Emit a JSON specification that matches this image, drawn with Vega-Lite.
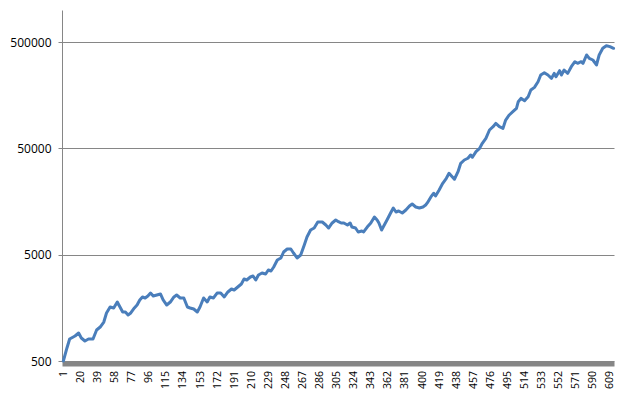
{
  "$schema": "https://vega.github.io/schema/vega-lite/v6.json",
  "autosize": "none",
  "width": 552,
  "height": 351,
  "padding": {"left": 62, "top": 10, "right": 8, "bottom": 37},
  "background": "white",
  "config": {"view": {"stroke": null}},
  "data": {"values": [
    {"i":1,"v":500},{"i":5,"v":663},{"i":8,"v":805},{"i":14,"v":859},{"i":18,"v":917},{"i":21,"v":823},{"i":25,"v":771},{"i":29,"v":805},{"i":34,"v":805},{"i":38,"v":978},
    {"i":42,"v":1044},{"i":46,"v":1163},{"i":49,"v":1414},{"i":53,"v":1610},{"i":57,"v":1576},{"i":61,"v":1794},{"i":64,"v":1610},{"i":67,"v":1445},{"i":70,"v":1445},{"i":73,"v":1354},
    {"i":76,"v":1414},{"i":80,"v":1576},{"i":83,"v":1681},{"i":86,"v":1874},{"i":89,"v":2000},{"i":92,"v":1957},{"i":95,"v":2043},{"i":98,"v":2180},{"i":101,"v":2043},{"i":105,"v":2088},
    {"i":109,"v":2134},{"i":112,"v":1874},{"i":116,"v":1681},{"i":120,"v":1794},{"i":124,"v":2000},{"i":127,"v":2088},{"i":131,"v":1957},{"i":135,"v":1957},{"i":139,"v":1610},{"i":142,"v":1576},
    {"i":146,"v":1542},{"i":150,"v":1445},{"i":153,"v":1610},{"i":157,"v":1957},{"i":161,"v":1794},{"i":164,"v":2000},{"i":168,"v":1957},{"i":172,"v":2180},{"i":176,"v":2180},{"i":180,"v":2000},
    {"i":184,"v":2228},{"i":188,"v":2378},{"i":191,"v":2327},{"i":195,"v":2483},{"i":199,"v":2650},{"i":202,"v":2953},{"i":205,"v":2889},{"i":209,"v":3083},{"i":212,"v":3151},{"i":215,"v":2889},
    {"i":218,"v":3220},{"i":222,"v":3362},{"i":226,"v":3290},{"i":229,"v":3588},{"i":232,"v":3511},{"i":235,"v":3829},{"i":239,"v":4455},{"i":243,"v":4653},{"i":246,"v":5297},{"i":250,"v":5653},
    {"i":254,"v":5653},{"i":257,"v":5184},{"i":261,"v":4653},{"i":265,"v":4965},{"i":269,"v":6164},{"i":272,"v":7330},{"i":276,"v":8530},{"i":280,"v":8905},{"i":284,"v":10145},{"i":289,"v":10145},
    {"i":293,"v":9506},{"i":296,"v":8905},{"i":300,"v":9930},{"i":304,"v":10595},{"i":307,"v":10220},{"i":310,"v":9930},{"i":313,"v":9930},{"i":317,"v":9506},{"i":320,"v":9930},{"i":322,"v":9100},
    {"i":326,"v":8905},{"i":329,"v":8170},{"i":333,"v":8350},{"i":335,"v":8170},{"i":339,"v":9100},{"i":343,"v":9930},{"i":347,"v":11310},{"i":350,"v":10595},{"i":352,"v":9930},{"i":355,"v":8530},
    {"i":358,"v":9506},{"i":361,"v":10595},{"i":365,"v":12325},{"i":368,"v":13740},{"i":371,"v":12595},{"i":374,"v":12870},{"i":378,"v":12325},{"i":382,"v":13155},{"i":386,"v":14345},{"i":389,"v":14975},
    {"i":393,"v":14040},{"i":397,"v":13740},{"i":401,"v":14040},{"i":404,"v":14660},{"i":406,"v":15415},{"i":410,"v":17560},{"i":413,"v":18900},{"i":415,"v":17815},{"i":419,"v":20285},{"i":423,"v":23465},
    {"i":427,"v":26155},{"i":430,"v":29145},{"i":434,"v":26730},{"i":436,"v":25595},{"i":440,"v":30170},{"i":443,"v":36190},{"i":447,"v":38845},{"i":451,"v":40330},{"i":454,"v":43290},{"i":456,"v":41205},
    {"i":460,"v":46525},{"i":464,"v":50000},{"i":467,"v":55750},{"i":471,"v":62150},{"i":475,"v":74400},{"i":479,"v":79900},{"i":482,"v":85900},{"i":486,"v":79900},{"i":490,"v":77100},{"i":493,"v":92350},
    {"i":497,"v":102950},{"i":501,"v":110550},{"i":505,"v":118900},{"i":507,"v":137250},{"i":510,"v":147650},{"i":514,"v":140250},{"i":518,"v":153000},{"i":521,"v":176850},{"i":525,"v":187350},{"i":529,"v":211650},
    {"i":532,"v":244700},{"i":536,"v":257250},{"i":540,"v":244700},{"i":544,"v":227700},{"i":547,"v":253700},{"i":549,"v":235900},{"i":553,"v":268700},{"i":555,"v":244700},{"i":558,"v":272800},{"i":562,"v":253700},
    {"i":566,"v":293000},{"i":570,"v":326450},{"i":573,"v":315100},{"i":577,"v":326450},{"i":579,"v":315100},{"i":583,"v":377400},{"i":586,"v":351100},{"i":590,"v":338650},{"i":594,"v":304000},{"i":597,"v":377400},
    {"i":601,"v":436300},{"i":605,"v":461650},{"i":609,"v":452000},{"i":613,"v":436300}
  ]},
  "mark": {"type": "line", "color": "#4a7ebb", "strokeWidth": 3, "strokeJoin": "round", "strokeCap": "round"},
  "encoding": {
    "x": {
      "field": "i", "type": "quantitative",
      "scale": {"domain": [-0.5, 613.5], "nice": false, "zero": false},
      "axis": {
        "title": null,
        "values": [1,20,39,58,77,96,115,134,153,172,191,210,229,248,267,286,305,324,343,362,381,400,419,438,457,476,495,514,533,552,571,590,609],
        "format": "d",
        "labelAngle": -90,
        "labelAlign": "right",
        "labelBaseline": "middle",
        "labelFont": "Open Sans",
        "labelFontSize": 10.5,
        "labelColor": "#000000",
        "labelPadding": 7,
        "labelOverlap": false,
        "labelBound": false,
        "labelFlush": false,
        "ticks": false,
        "tickSize": 0,
        "grid": false,
        "domainColor": "#868686",
        "domainWidth": 5,
        "offset": 2.5
      }
    },
    "y": {
      "field": "v", "type": "quantitative",
      "scale": {"type": "log", "domain": [500, 1000000], "nice": false},
      "axis": {
        "title": null,
        "values": [500, 5000, 50000, 500000],
        "format": "d",
        "labelFont": "Open Sans",
        "labelFontSize": 12,
        "labelColor": "#000000",
        "labelPadding": 7,
        "tickSize": 4,
        "tickColor": "#868686",
        "domainColor": "#868686",
        "domainWidth": 1,
        "grid": true,
        "gridColor": "#868686",
        "gridWidth": 1,
        "gridOpacity": 1
      }
    }
  }
}
